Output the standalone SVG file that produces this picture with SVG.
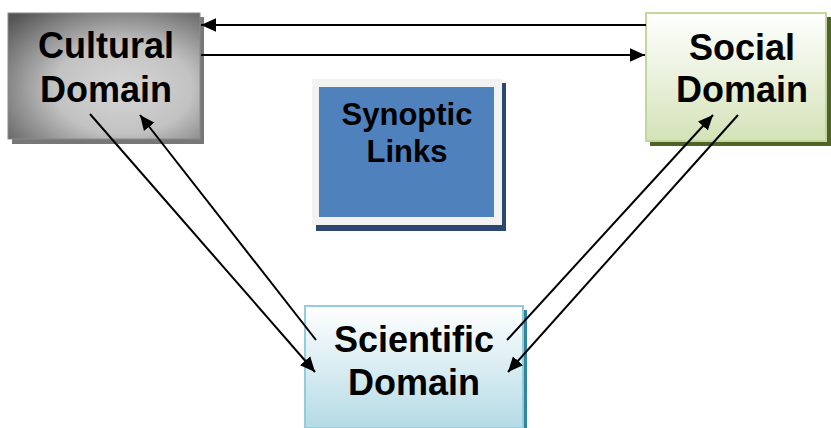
<svg xmlns="http://www.w3.org/2000/svg" width="831" height="428" viewBox="0 0 831 428">
<style>
text{font-family:"Liberation Sans",Arial,sans-serif;font-weight:bold;fill:#000;text-anchor:middle}
.big{font-size:36px}
.mid{font-size:31px}
.ln{stroke:#000;stroke-width:2;fill:none}
</style>
<defs>
<radialGradient id="gCult" cx="0.6" cy="0.6" r="0.8">
<stop offset="0" stop-color="#d6d6d6"/>
<stop offset="0.45" stop-color="#c2c2c2"/>
<stop offset="1" stop-color="#555555"/>
</radialGradient>
<linearGradient id="gSoc" x1="0" y1="0" x2="0" y2="1">
<stop offset="0" stop-color="#ffffff"/>
<stop offset="1" stop-color="#d4e3b8"/>
</linearGradient>
<linearGradient id="gSci" x1="0" y1="0" x2="0" y2="1">
<stop offset="0" stop-color="#ffffff"/>
<stop offset="1" stop-color="#b4dbe6"/>
</linearGradient>
<marker id="ah" viewBox="0 0 10 10" refX="10" refY="5" markerWidth="7.5" markerHeight="7.5" orient="auto" markerUnits="strokeWidth">
<path d="M0,0.5 L10,5 L0,9.5 z" fill="#000"/>
</marker>
</defs>
<g id="cultural">
<rect x="12" y="17" width="192" height="127" fill="#777"/>
<rect x="8" y="13" width="192" height="126" fill="url(#gCult)" stroke="#8a8a8a" stroke-width="1"/>
<text class="big" x="106" y="58">Cultural</text>
<text class="big" x="106" y="102">Domain</text>
</g>
<g id="social">
<rect x="650" y="17" width="181" height="129" fill="#4f6228"/>
<rect x="646" y="13" width="180" height="128" fill="url(#gSoc)" stroke="#c3d69b" stroke-width="2"/>
<text class="big" x="742" y="60">Social</text>
<text class="big" x="742" y="102">Domain</text>
</g>
<g id="scientific">
<rect x="309" y="310" width="218" height="122" fill="#31859c"/>
<rect x="305" y="306" width="218" height="122" fill="url(#gSci)" stroke="#93cddd" stroke-width="2"/>
<text class="big" x="414" y="352">Scientific</text>
<text class="big" x="414" y="395">Domain</text>
</g>
<g id="synoptic">
<rect x="316" y="83" width="190" height="148" fill="#2c4770"/>
<rect x="312" y="79" width="190" height="146" fill="#f2f2f2"/>
<rect x="319" y="87" width="175" height="130" fill="#4f81bd"/>
<text class="mid" x="407" y="125">Synoptic</text>
<text class="mid" x="407" y="162">Links</text>
</g>
<g id="connectors">
<line class="ln" x1="646" y1="25" x2="201" y2="25" marker-end="url(#ah)"/>
<line class="ln" x1="201" y1="55" x2="645" y2="55" marker-end="url(#ah)"/>
<line class="ln" x1="90" y1="114" x2="315" y2="372" marker-end="url(#ah)"/>
<line class="ln" x1="316" y1="340" x2="140" y2="115" marker-end="url(#ah)"/>
<line class="ln" x1="507" y1="340" x2="713" y2="115" marker-end="url(#ah)"/>
<line class="ln" x1="738" y1="115" x2="508" y2="372" marker-end="url(#ah)"/>
</g>
</svg>
